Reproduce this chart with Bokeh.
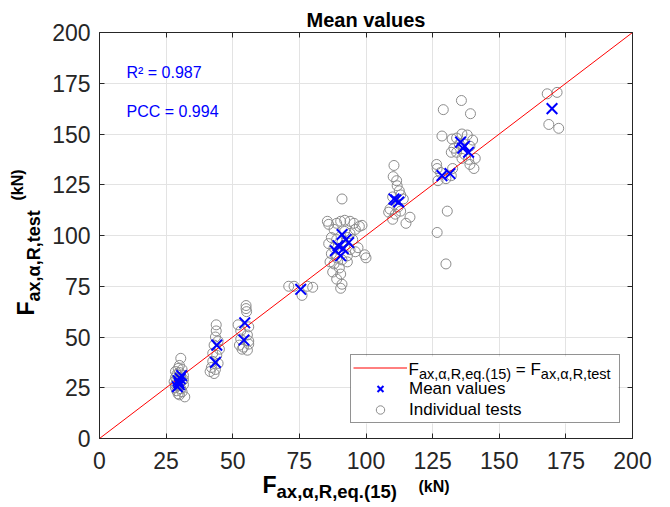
import math
from bokeh.plotting import figure
from bokeh.models import (Range1d, LinearAxis, Label, Legend, LegendItem, FixedTicker, Grid,
                          BoxAnnotation)
from bokeh.embed import file_html
from bokeh.resources import INLINE

# ---------------- data ----------------
ticks = [0, 25, 50, 75, 100, 125, 150, 175, 200]
line_x = [0, 200]
line_y = [0, 200]

mean_x = [29.2, 29.8, 30.3, 30.8, 29.5, 30.0,
          43.5, 44.0,
          54.2, 54.5,
          75.5,
          91.0, 92.5, 89.5, 93.5, 88.5, 90.5, 91.5,
          110.5, 112.3, 111.2,
          128.5, 131.5,
          135.5, 137.0, 138.5, 136.3,
          169.8]
mean_y = [25.5, 27.5, 29.5, 31.0, 28.5, 26.5,
          37.5, 46.0,
          48.5, 57.0,
          73.5,
          100.5, 98.0, 95.0, 96.5, 92.5, 90.0, 93.5,
          118.0, 116.5, 117.5,
          129.5, 130.5,
          146.0, 144.0, 141.0, 143.0,
          162.5]

ind_x = [30.5, 30.0, 29.5, 31.0, 28.5, 30.0, 29.0, 31.5, 28.5, 30.5, 29.0, 31.0, 28.0,
         30.0, 29.5, 31.5, 28.5, 30.5, 29.0, 31.0, 29.5, 30.0, 32.0, 28.5, 31.5,
         43.8, 43.8, 43.5, 44.5, 43.0, 45.0, 42.5, 44.0, 42.5, 44.5, 42.0, 43.5, 41.5, 43.0,
         55.0, 55.0, 55.2, 52.0, 56.0, 53.0, 55.5, 53.0, 56.0, 52.5, 56.0, 53.5, 55.5, 54.0,
         71.0, 73.0, 78.0, 80.0, 76.0,
         91.0, 85.5, 86.0, 89.0, 90.5, 92.0, 94.0, 95.5, 97.5, 98.5, 88.0, 92.0, 94.0, 96.0,
         87.0, 89.0, 91.0, 93.0, 95.0, 86.0, 88.0, 90.0, 92.0, 94.0, 96.0, 87.0, 89.0, 91.0,
         93.0, 86.5, 88.0, 90.0, 93.0, 87.5, 90.5, 91.0, 90.5, 89.0, 97.0, 100.0, 99.5,
         110.5, 110.2, 111.5, 111.7, 112.5, 113.0, 110.0, 114.0, 112.0, 109.0, 108.5, 111.0,
         113.0, 116.5, 115.0, 110.0,
         129.0, 128.5, 126.5, 126.7, 128.0, 130.0, 132.0, 130.5, 126.7, 130.0, 127.0, 132.5,
         135.8, 139.2, 132.3, 138.0, 136.0, 134.0, 140.0, 135.0, 139.0, 133.0, 137.0, 134.0,
         140.5, 139.0, 141.0, 136.0, 138.5, 132.0,
         168.0, 171.7, 168.6, 172.3]
ind_y = [39.5, 36.0, 34.5, 34.0, 33.0, 32.5, 31.5, 31.0, 30.0, 30.0, 29.0, 28.5, 28.0,
         27.0, 26.0, 26.5, 25.0, 24.5, 23.5, 23.0, 22.0, 21.5, 20.5, 26.5, 29.0,
         56.0, 53.0, 50.0, 48.0, 46.0, 44.0, 42.0, 41.0, 38.0, 37.0, 35.0, 34.0, 33.0, 32.0,
         65.5, 64.0, 62.5, 56.0, 55.0, 53.0, 51.0, 49.0, 48.0, 46.0, 46.5, 44.0, 43.5, 45.0,
         75.0, 75.0, 75.0, 74.5, 70.5,
         118.0, 107.0, 105.5, 106.0, 107.0, 107.5, 107.0, 106.0, 104.5, 105.0, 103.0, 102.0, 101.0, 103.0,
         99.0, 98.0, 97.0, 99.0, 98.0, 96.0, 94.0, 93.0, 95.0, 93.0, 92.0, 91.0, 89.0, 88.0,
         90.0, 87.0, 86.0, 84.0, 87.0, 82.0, 81.0, 76.0, 74.0, 78.5, 94.0, 89.0, 90.5,
         134.5, 129.0, 127.0, 124.5, 122.0, 120.0, 119.0, 118.0, 114.0, 113.0, 111.5, 110.5,
         112.0, 109.0, 106.0, 108.0,
         162.0, 149.0, 135.0, 133.0, 131.0, 128.0, 129.5, 112.0, 101.5, 86.0, 127.0, 133.0,
         166.5, 160.0, 147.5, 149.5, 150.0, 148.0, 147.0, 145.0, 144.0, 143.0, 140.0, 141.0,
         133.0, 135.0, 138.0, 138.0, 137.5, 141.0,
         169.8, 170.5, 154.7, 152.8]

title_text = "Mean values"
r2_text = "R\u00b2 = 0.987"
pcc_text = "PCC = 0.994"
mean_label = "Mean values"
ind_label = "Individual tests"

# ---------------- layout (pixel geometry of the axes box) ----------------
W, H = 670, 507
FL, FR, FT, FB = 99, 632, 32, 438
FONT = "Liberation Sans"
AX = "#262626"
LEG_L, LEG_R, LEG_B = 350, 618, 423
LEG_PAD, ROW_H, LEG_FS = 2, 21, 17
GLYPH_W, STANDOFF = 54, 2


def dx(px):
    return (px - FL) / (FR - FL) * 200.0


def dy(py):
    return (FB - py) / (FB - FT) * 200.0


# the frame covers the whole canvas; the axes box is drawn with fixed-location axes
p = figure(width=W, height=H, x_range=Range1d(dx(0), dx(W)), y_range=Range1d(dy(H), dy(0)),
           output_backend="svg", toolbar_location=None,
           x_axis_location=None, y_axis_location=None,
           min_border_left=0, min_border_right=0, min_border_top=0, min_border_bottom=0)
p.background_fill_color = "white"
p.border_fill_color = "white"
p.outline_line_color = None
for g in list(p.center):
    if isinstance(g, Grid):
        g.visible = False

# grid restricted to the axes box
grid_ok = True
for dim in (0, 1):
    g = Grid(dimension=dim, ticker=FixedTicker(ticks=ticks), bounds=(0, 200),
             grid_line_color="#e3e3e3", grid_line_width=1)
    try:
        g.cross_bounds = (0, 200)
    except Exception:
        grid_ok = False
    p.add_layout(g)
if not grid_ok:
    for g in list(p.center):
        if isinstance(g, Grid):
            g.visible = False
    p.segment(x0=ticks, y0=[0] * len(ticks), x1=ticks, y1=[200] * len(ticks),
              line_color="#e3e3e3", line_width=1, level="underlay")
    p.segment(x0=[0] * len(ticks), y0=ticks, x1=[200] * len(ticks), y1=ticks,
              line_color="#e3e3e3", line_width=1, level="underlay")

# white backing for the legend (hides the grid under it)
leg_top = LEG_B - (2 * LEG_PAD + 3 * ROW_H)
p.add_layout(BoxAnnotation(left=dx(LEG_L), right=dx(LEG_R), bottom=dy(LEG_B), top=dy(leg_top),
                           fill_color="white", fill_alpha=1, line_color=None, level="underlay"))


def make_axis(loc, show_labels):
    ax = LinearAxis(fixed_location=loc, bounds=(0, 200))
    ax.ticker = FixedTicker(ticks=ticks)
    ax.axis_line_color = AX
    ax.axis_line_width = 1
    ax.major_tick_line_color = AX
    ax.major_tick_in = 5
    ax.major_tick_out = 0
    ax.minor_tick_line_color = None
    ax.major_label_text_font = FONT
    ax.major_label_text_color = AX
    ax.major_label_text_font_size = "23px"
    if not show_labels:
        ax.major_label_overrides = {t: "" for t in ticks}
        ax.major_label_text_alpha = 0
    return ax


ax_b = make_axis(0, True)
ax_b.major_label_standoff = 13
ax_l = make_axis(0, True)
ax_l.major_label_standoff = 9
p.add_layout(ax_b, "below")
p.add_layout(ax_l, "left")
p.add_layout(make_axis(200, False), "above")
p.add_layout(make_axis(200, False), "right")

r_ind = p.scatter(ind_x, ind_y, marker="circle", size=10, fill_color=None,
                  line_color="#8c8c8c", line_width=1)
r_line = p.line(line_x, line_y, line_color="#ff0000", line_width=1)
r_mean = p.scatter(mean_x, mean_y, marker="x", size=15, line_color="#0000ff", line_width=2)

legend = Legend(items=[LegendItem(label=" ", renderers=[r_line]),
                       LegendItem(label=mean_label, renderers=[r_mean]),
                       LegendItem(label=ind_label, renderers=[r_ind])],
                location=(LEG_L, H - LEG_B))
legend.padding = LEG_PAD
legend.spacing = 0
legend.margin = 0
legend.glyph_width = GLYPH_W
legend.glyph_height = ROW_H
legend.label_height = ROW_H
legend.label_width = LEG_R - LEG_L - 2 * LEG_PAD - GLYPH_W - STANDOFF
legend.label_standoff = STANDOFF
legend.label_text_font = FONT
legend.label_text_font_size = f"{LEG_FS}px"
legend.label_text_color = "black"
legend.border_line_color = AX
legend.border_line_width = 1
legend.background_fill_alpha = 0
p.add_layout(legend)

# ---------------- text pieces ----------------
REG = {' ': .278, '(': .333, ')': .333, ',': .278, '.': .278, '1': .556, '5': .556,
       '=': .584, 'F': .611, 'R': .722, 'a': .556, 'e': .556, 'q': .556, 's': .5,
       't': .278, 'x': .5, '\u03b1': .58}
BLD = {' ': .278, '(': .333, ')': .333, ',': .278, '.': .278, '1': .556, '5': .556,
       'F': .611, 'R': .722, 'a': .556, 'e': .556, 'q': .611, 's': .556, 't': .333,
       'x': .556, 'k': .556, 'N': .722, '\u03b1': .6}
BASE_FIX = 0.35  # rendered alphabetic baseline sits this many em below the anchor


def tw(s, size, bold):
    tab = BLD if bold else REG
    return sum(tab.get(c, .55) for c in s) * size


def add_text(px, py, text, size, bold=False, color="black", vertical=False, align="left"):
    # (px, py): pixel position of the start of the text baseline
    if vertical:
        px -= BASE_FIX * size
    else:
        py -= BASE_FIX * size
    p.add_layout(Label(x=dx(px), y=dy(py), text=text, text_font=FONT,
                       text_font_size=f"{size}px",
                       text_font_style="bold" if bold else "normal",
                       text_color=color, text_align=align, text_baseline="alphabetic",
                       angle=math.pi / 2 if vertical else 0.0, level="overlay"))


def add_run(px, py, segs, bold, vertical=False):
    # segs: (text, size, baseline shift in px, positive = below the main baseline)
    pos = px if not vertical else py
    for text, size, shift in segs:
        lead = len(text) - len(text.lstrip(" "))
        if lead:  # leading blanks are collapsed in SVG text: advance explicitly
            adv = tw(" " * lead, size, bold)
            pos = pos - adv if vertical else pos + adv
            text = text.lstrip(" ")
        if vertical:
            add_text(px + shift, pos, text, size, bold, vertical=True)
            pos -= tw(text, size, bold)
        else:
            add_text(pos, py + shift, text, size, bold)
            pos += tw(text, size, bold)


# title
add_text((FL + FR) / 2, 26, title_text, 20, bold=True, align="center")
# statistics
add_text(126, 78, r2_text, 16, color="#0000ff")
add_text(126, 117, pcc_text, 16, color="#0000ff")

# x axis label
add_run(262, 493, [("F", 23, 0), ("ax,\u03b1,R,eq.(15)", 18.5, 4)], True)
add_text(418, 491.5, "(kN)", 16, bold=True)
# y axis label
add_run(33.3, 315, [("F", 23, 0), ("ax,\u03b1,R,test", 18, 6.5)], True, vertical=True)
add_text(22.6, 200, "(kN)", 16, bold=True, vertical=True)

# legend first entry text
row1_baseline = leg_top + LEG_PAD + ROW_H / 2 + 0.36 * LEG_FS
add_run(LEG_L + LEG_PAD + GLYPH_W + STANDOFF, row1_baseline,
        [("F", LEG_FS, 0), ("ax,\u03b1,R,eq.(15)", 14.5, 4), (" = F", LEG_FS, 0),
         ("ax,\u03b1,R,test", 14.5, 4)], False)

open("out.html", "w").write(file_html(p, INLINE))
